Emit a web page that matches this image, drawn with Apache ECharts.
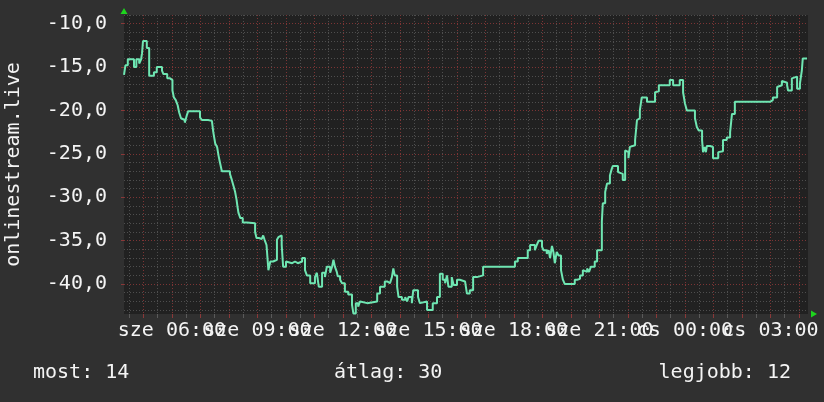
<!DOCTYPE html>
<html>
<head>
<meta charset="utf-8">
<script src="https://cdn.jsdelivr.net/npm/echarts@6/dist/echarts.min.js"></script>
<style>
html,body{margin:0;padding:0;background:#303030;}
#chart{width:824px;height:402px;}
</style>
</head>
<body>
<div id="chart"></div>
<script>
// window start 04:19 (minutes since midnight of first day), 24 hours shown
const startMinute = 259;
const spanMinutes = 1440;

// minutes after window start where each step begins
const minuteOffsets = [
  0,3,8,21,26,32,36,38,40,48,
  53,63,69,80,83,91,97,102,105,109,
  113,116,120,124,128,132,135,160,164,177,
  185,188,192,196,199,202,206,223,227,231,
  234,237,239,241,245,250,259,276,279,284,
  290,293,296,300,304,308,314,322,325,328,
  332,335,341,345,354,360,366,375,381,385,
  392,402,406,410,417,423,427,434,438,441,
  444,448,450,455,459,465,472,480,483,488,
  493,497,501,512,533,539,549,554,560,564,
  567,570,575,578,585,592,596,599,606,609,
  619,623,627,638,650,659,665,671,676,680,
  683,690,694,701,707,718,722,728,735,743,
  756,823,829,850,855,865,869,873,880,883,
  890,894,897,901,904,907,911,915,920,924,
  928,949,954,960,966,970,975,979,983,991,
  996,1006,1008,1013,1017,1023,1027,1029,1040,1044,
  1050,1055,1059,1062,1065,1069,1076,1080,1083,1086,
  1090,1101,1118,1122,1126,1149,1156,1170,1177,1181,
  1185,1202,1206,1210,1217,1219,1222,1225,1227,1234,
  1240,1251,1255,1261,
  1269,1276,1280,1286,1360,
  1366,1375,1377,1385,1387,1396,1398,1406,1408,1417,
  1423,1427,1429,1438
];

const values = [
  -15.9,-14.8,-14.1,-15.0,-14.1,-14.6,-14.1,-13.4,-12.0,-12.8,
  -16.0,-15.6,-15.0,-15.4,-15.8,-16.3,-16.5,-17.7,-18.5,-18.8,
  -19.4,-20.2,-20.9,-21.1,-21.4,-20.6,-20.1,-20.8,-21.1,-21.2,
  -21.4,-22.5,-23.8,-24.2,-25.2,-26.0,-27.0,-27.3,-28.0,-28.8,
  -29.4,-30.3,-31.1,-31.8,-32.4,-32.9,-33.0,-34.0,-34.7,-34.8,
  -35.0,-34.4,-34.9,-35.5,-38.4,-37.4,-37.2,-34.9,-34.6,-34.4,
  -35.5,-38.0,-37.4,-37.6,-37.4,-37.6,-37.4,-37.0,-38.4,-39.0,
  -39.9,-39.2,-38.7,-40.3,-38.7,-39.2,-38.0,-38.7,-38.0,-37.2,
  -38.0,-38.6,-39.1,-39.5,-39.9,-40.9,-41.2,-42.4,-43.4,-42.2,
  -42.6,-42.0,-42.2,-42.0,-41.1,-40.3,-39.7,-39.9,-39.7,-39.2,
  -38.2,-39.0,-40.3,-41.5,-41.8,-41.5,-42.0,-41.5,-42.2,-40.7,
  -41.5,-42.2,-42.0,-43.0,-42.2,-41.5,-38.8,-39.5,-39.9,-39.0,
  -40.3,-39.2,-40.1,-39.5,-39.7,-39.5,-41.1,-40.7,-39.2,-39.0,
  -38.0,-37.4,-37.0,-36.1,-35.5,-36.1,-35.5,-35.0,-35.7,-36.1,
  -36.5,-36.1,-37.0,-35.6,-36.3,-37.6,-36.3,-36.7,-38.4,-39.5,
  -40.0,-39.5,-39.4,-39.0,-38.4,-38.6,-38.2,-38.6,-38.0,-37.4,
  -36.1,-32.8,-30.7,-29.4,-28.4,-27.5,-26.7,-26.4,-27.1,-27.3,
  -28.0,-24.6,-24.8,-25.5,-24.2,-24.0,-23.4,-21.1,-20.9,-20.0,
  -18.5,-19.0,-17.9,-17.8,-17.1,-16.5,-17.1,-16.5,-17.9,-19.2,
  -20.0,-20.9,-21.9,-22.3,-23.4,-24.8,-24.2,-24.8,-24.1,-24.2,
  -25.5,-24.8,-24.7,-23.4,
  -23.1,-22.5,-20.4,-19.0,-18.8,
  -18.5,-17.3,-17.1,-16.6,-16.8,-17.1,-17.7,-16.3,-16.1,-17.5,
  -16.9,-15.4,-14.0,-14.0
];

// x tick labels (minutes since midnight of first day)
const xLabelTicks = [360, 540, 720, 900, 1080, 1260, 1440, 1620];
const dayNames = ['sze', 'cs'];
// y tick labels
const yLabelTicks = [-40, -35, -30, -25, -20, -15, -10];
const yMin = -43.45, yMax = -9;

// legend stats
const statNow = 14, statAvg = 30, statBest = 12;
const yName = 'onlinestream.live';

const xMin = startMinute, xMax = startMinute + spanMinutes;
const hourTicks = [], halfHourTicks = [], yMinorTicks = [];
for (let m = Math.ceil(xMin / 30) * 30; m <= xMax; m += 30) {
  if (m % 60 === 0) hourTicks.push(m); else halfHourTicks.push(m);
}
for (let v = Math.ceil(yMin); v <= yMax; v++) if (v % 5 !== 0) yMinorTicks.push(v);

// labels overlap in the original; split them over two axes so none is dropped
const xLabelsA = xLabelTicks.filter((v, i) => i % 2 === 0);
const xLabelsB = xLabelTicks.filter((v, i) => i % 2 === 1);

const data = minuteOffsets.map((m, i) => [startMinute + m, values[i]]);

const FONT = '"DejaVu Sans Mono", monospace';
const WHITE = '#f4f4f4';
const MINOR = '#4e4e4e';
const MAJOR = '#7c3434';
const ARROW = '#1ed51e';

const pad2 = n => (n < 10 ? '0' : '') + n;
const fmtTime = function (v) {
  const day = Math.floor(v / 1440);
  const h = Math.floor((v % 1440) / 60);
  const mm = Math.round(v % 60);
  return dayNames[day] + ' ' + pad2(h) + ':' + pad2(mm);
};
const labelAxis = (vals) => ({
  type: 'value', min: xMin, max: xMax, position: 'bottom',
  axisLine: {show: false},
  axisTick: {show: false},
  splitLine: {show: false},
  axisLabel: {
    show: true, customValues: vals, hideOverlap: false,
    showMinLabel: true, showMaxLabel: true,
    color: WHITE, fontSize: 20, fontFamily: FONT, margin: 7,
    formatter: fmtTime
  }
});

const chart = echarts.init(document.getElementById('chart'), null, {renderer: 'canvas'});
chart.setOption({
  backgroundColor: '#303030',
  animation: false,
  grid: {
    left: 124, right: 16, top: 15, bottom: 88,
    show: true, backgroundColor: '#212121', borderWidth: 0,
    outerBoundsMode: 'none'
  },
  xAxis: [
    {
      type: 'value', min: xMin, max: xMax, position: 'bottom',
      axisLine: {show: false},
      axisTick: {show: true, customValues: halfHourTicks, length: 4, lineStyle: {color: '#5a5a5a'}},
      axisLabel: {show: false},
      splitLine: {show: true, lineStyle: {color: MINOR, width: 1, type: [1, 2]}}
    },
    {
      type: 'value', min: xMin, max: xMax, position: 'bottom',
      axisLine: {show: true, onZero: false, lineStyle: {color: ARROW, opacity: 0},
        symbol: ['none', 'triangle'], symbolSize: [7, 6], symbolOffset: [0, 6]},
      axisTick: {show: true, customValues: hourTicks, length: 4, lineStyle: {color: '#8a3838'}},
      axisLabel: {show: false},
      splitLine: {show: true, lineStyle: {color: MAJOR, width: 1, type: [1, 2]}}
    },
    labelAxis(xLabelsA),
    labelAxis(xLabelsB)
  ],
  yAxis: [
    {
      type: 'value', min: yMin, max: yMax, position: 'left',
      axisLine: {show: false},
      axisTick: {show: false, customValues: yMinorTicks},
      axisLabel: {show: false},
      splitLine: {show: true, lineStyle: {color: MINOR, width: 1, type: [1, 2]}}
    },
    {
      type: 'value', min: yMin, max: yMax, position: 'left',
      name: yName, nameLocation: 'middle', nameGap: 100,
      nameTextStyle: {color: WHITE, fontSize: 20, fontFamily: FONT},
      axisLine: {show: true, onZero: false, lineStyle: {color: ARROW, opacity: 0},
        symbol: ['none', 'triangle'], symbolSize: [7, 6], symbolOffset: [0, 4]},
      axisTick: {show: true, customValues: yLabelTicks, length: 3, lineStyle: {color: '#8a3838'}},
      axisLabel: {
        show: true, customValues: yLabelTicks,
        showMinLabel: true, showMaxLabel: true,
        color: WHITE, fontSize: 20, fontFamily: FONT, margin: 17,
        formatter: v => v.toFixed(1).replace('.', ',')
      },
      splitLine: {show: true, lineStyle: {color: MAJOR, width: 1, type: [1, 2]}}
    }
  ],
  series: [{
    type: 'line',
    xAxisIndex: 0, yAxisIndex: 0,
    data: data,
    step: 'end',
    showSymbol: false,
    symbol: 'none',
    lineStyle: {color: '#6fe6b2', width: 2},
    z: 5
  }],
  graphic: [
    {type: 'text', left: 33, top: 363, style: {text: 'most: ' + statNow, fill: WHITE, font: '20px ' + FONT}},
    {type: 'text', left: 334, top: 363, style: {text: 'átlag: ' + statAvg, fill: WHITE, font: '20px ' + FONT}},
    {type: 'text', right: 33, top: 363, style: {text: 'legjobb: ' + statBest, fill: WHITE, font: '20px ' + FONT}}
  ]
});
</script>
</body>
</html>
